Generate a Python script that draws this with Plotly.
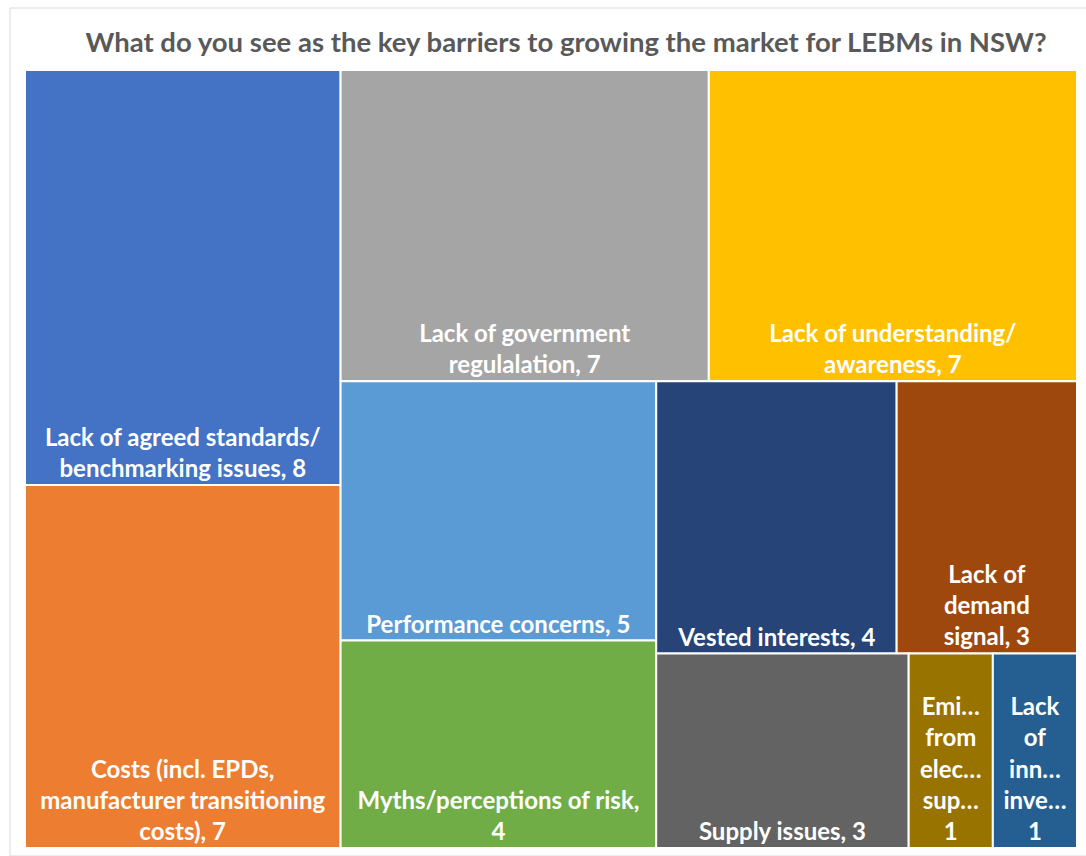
import plotly.graph_objects as go

# Barrier categories, counts and the wrapped tile captions
categories = [
    "Lack of agreed standards/benchmarking issues",
    "Costs (incl. EPDs, manufacturer transitioning costs)",
    "Lack of government regulalation",
    "Lack of understanding/awareness",
    "Performance concerns",
    "Myths/perceptions of risk",
    "Vested interests",
    "Lack of demand signal",
    "Supply issues",
    "Emissions from electricity supply",
    "Lack of innovation investment",
]
counts = [8, 7, 7, 7, 5, 4, 4, 3, 3, 1, 1]
captions = [
    "Lack of agreed standards/<br>benchmarking issues",
    "Costs (incl. EPDs,<br>manufacturer transitioning<br>costs)",
    "Lack of government<br>regulalation",
    "Lack of understanding/<br>awareness",
    "Performance concerns",
    "Myths/perceptions of risk",
    "Vested interests",
    "Lack of<br>demand<br>signal",
    "Supply issues",
    "Emi…<br>from<br>elec…<br>sup…",
    "Lack<br>of<br>inn…<br>inve…",
]
separators = [", ", ", ", ", ", ", ", ", ", ",<br>", ", ", ", ", ", ", "<br>", "<br>"]
colors = [
    "#4472C4", "#ED7D31", "#A5A5A5", "#FFC000", "#5B9BD5", "#70AD47",
    "#264478", "#9E480E", "#636363", "#997300", "#255E91",
]

tile_text = [c + s + str(v) for c, s, v in zip(captions, separators, counts)]

fig = go.Figure(
    go.Treemap(
        labels=categories,
        parents=[""] * len(categories),
        values=counts,
        text=tile_text,
        texttemplate="%{text}",
        textposition="bottom center",
        textfont=dict(family="Lato", size=24, color="white", weight="bold"),
        marker=dict(
            colors=colors,
            line=dict(color="white", width=2),
            pad=dict(t=0, l=0, r=0, b=0),
        ),
        tiling=dict(packing="squarify", squarifyratio=1.17, pad=0),
        pathbar=dict(visible=False),
        sort=True,
        hoverinfo="label+value",
    )
)

fig.update_layout(
    width=1086,
    height=856,
    margin=dict(l=25, r=9, t=70, b=8),
    paper_bgcolor="white",
    title=dict(
        text="What do you see as the key barriers to growing the market for LEBMs in NSW?",
        font=dict(family="Lato", size=27.5, color="#595959", weight="bold"),
        x=566 / 1086,
        xanchor="center",
        y=1 - 42 / 856,
        yanchor="middle",
    ),
    shapes=[
        dict(
            type="rect", xref="paper", yref="paper",
            x0=-15 / 1052, x1=1.03, y0=-8 / 778, y1=1 + 62 / 778,
            line=dict(color="#D9D9D9", width=1),
        )
    ],
)

fig.write_html("out.html")
